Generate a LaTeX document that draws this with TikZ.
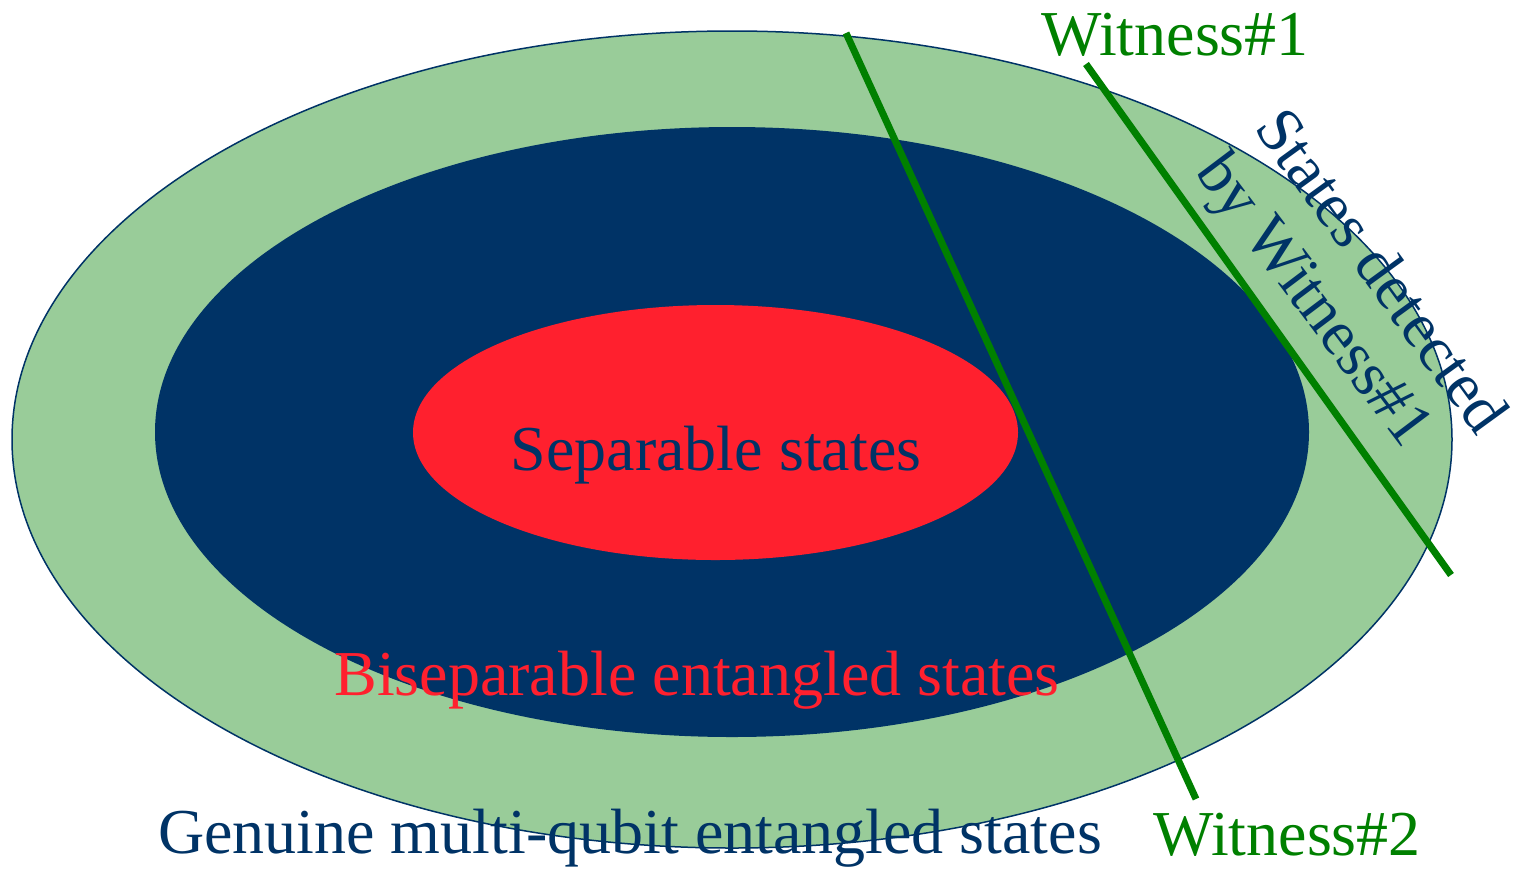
\documentclass[tikz,border=0pt]{standalone}
\usepackage{fontspec}
\setmainfont{Liberation Serif}
\definecolor{lgreen}{HTML}{99CC99}
\definecolor{navy}{HTML}{003366}
\definecolor{sred}{HTML}{FF202E}
\definecolor{wgreen}{HTML}{008000}
\begin{document}
\begin{tikzpicture}[x=0.5pt,y=-0.5pt,
  lbl/.style={inner sep=0pt,font=\fontsize{32pt}{36pt}\selectfont},
  wline/.style={draw=wgreen,line width=3.5pt}]
\useasboundingbox (0,0) rectangle (1525,869);
\fill[lgreen,draw=navy,line width=0.75pt] (732,439.5) ellipse [x radius=720,y radius=408.5];
\fill[navy] (732,432) ellipse [x radius=577,y radius=305];
\fill[sred] (715.5,432.5) ellipse [x radius=302.5,y radius=127.5];
\coordinate (w2a) at (846,33);
\coordinate (w2b) at (1196,799);
\coordinate (w1a) at (1086,64);
\coordinate (w1b) at (1451,575);
\draw[wline] (w2a) -- (w2b);
\draw[wline] (w1a) -- (w1b);
\node[lbl,anchor=base,text=navy] (sep) at (716,470) {Separable states};
\node[lbl,anchor=base,text=sred] (bisep) at (697,695) {Biseparable entangled states};
\node[lbl,anchor=base,text=navy] (gen) at (630,853) {Genuine multi-qubit entangled states};
\node[lbl,anchor=base,text=wgreen] (w1) at (1175,55) {Witness\#1};
\node[lbl,anchor=base,text=wgreen] (w2) at (1287,855) {Witness\#2};
\node[lbl,text=navy,rotate=-54] (sd) at (1383,270) {States detected};
\node[lbl,text=navy,rotate=-53] (bw) at (1311,302) {by Witness\#1};
\end{tikzpicture}
\end{document}
